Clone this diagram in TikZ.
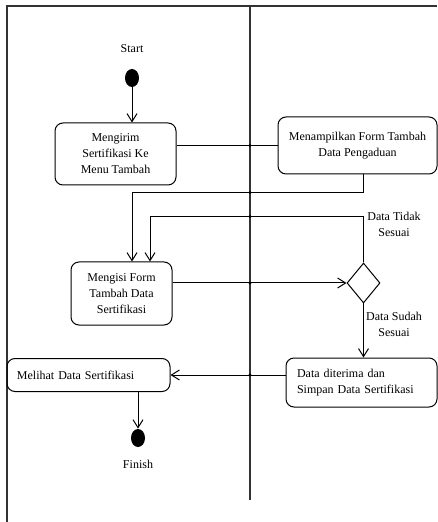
\documentclass[tikz,border=0pt]{standalone}
\usepackage{fontspec}
\setmainfont{Liberation Serif}
\usetikzlibrary{shapes.geometric, arrows.meta, positioning, calc}

\begin{document}
\begin{tikzpicture}[x=0.5pt, y=-0.5pt,
  act/.style={rectangle, draw, line width=0.5pt, rounded corners=4pt,
              align=center, inner sep=0pt, font=\fontsize{6}{8}\selectfont},
  actl/.style={act, align=left, inner xsep=5.5pt},
  dec/.style={diamond, draw, line width=0.5pt, minimum width=16.5pt,
              minimum height=20pt, inner sep=0pt},
  dot/.style={ellipse, fill=black, minimum width=7pt, minimum height=9pt, inner sep=0pt},
  lbl/.style={font=\fontsize{6}{8}\selectfont, align=center},
  arr/.style={-{Straight Barb[length=4pt,width=5pt]}, line width=0.5pt},
  lane/.style={line width=0.55pt, black!80}
]
\useasboundingbox (0,0) rectangle (437,522);

% swimlanes
\draw[lane] (7,522) -- (7,6) -- (437,6);
\coordinate (divtop) at (250,6);
\coordinate (divbot) at (250,500);
\draw[lane] (divtop) -- (divbot);

\node[lbl] (startlbl) at (132,49) {Start};
\node[dot] (start) at (132,78) {};
\node[act, minimum width=60.5pt, minimum height=31pt] (kirim) at (115.5,154)
  {Mengirim\\Sertifikasi Ke\\Menu Tambah};
\node[act, minimum width=79.5pt, minimum height=28.5pt] (tampil) at (357.5,145.5)
  {Menampilkan Form Tambah\\Data Pengaduan};
\node[act, minimum width=50.5pt, minimum height=31.5pt] (isi) at (121.5,293.5)
  {Mengisi Form\\Tambah Data\\Sertifikasi};
\node[dec] (cek) at (363.5,283) {};
\node[lbl] (tidak) at (394,224) {Data Tidak\\Sesuai};
\node[lbl] (sudah) at (394,324) {Data Sudah\\Sesuai};
\node[actl, minimum width=75.5pt, text width=64.5pt, minimum height=24.5pt] (simpan) at (361.5,382.5)
  {Data diterima dan\\Simpan Data Sertifikasi};
\node[actl, inner xsep=5pt, minimum width=81.5pt, text width=71.5pt, minimum height=16.5pt] (lihat) at (88.5,375)
  {Melihat Data Sertifikasi};
\node[dot] (finish) at (138,438) {};
\node[lbl] (finlbl) at (138,464) {Finish};

\draw[arr] (start) -- (start |- kirim.north);
\draw[line width=0.5pt] (kirim.east |- tampil.west) -- (tampil.west);
\draw[arr] (tampil.south -| cek) -- ++(0,18) coordinate (backa) -| ([xshift=5.25pt]isi.north);
\draw[arr] (cek.north) -- ++(0,-46) coordinate (backb) -| ([xshift=14.25pt]isi.north);
\draw[arr] (isi.east |- cek.west) -- (cek.west);
\draw[arr] (cek.south) -- (cek.south |- simpan.north);
\draw[arr] (simpan.west |- lihat.east) -- (lihat.east);
\draw[arr] (lihat.south -| finish) -- (finish);

% crossings on the lane line
\foreach \p in {tampil.west, backa, backb, cek.west, lihat.east}
  \fill (divtop |- \p) circle (0.8pt);
\end{tikzpicture}
\end{document}
